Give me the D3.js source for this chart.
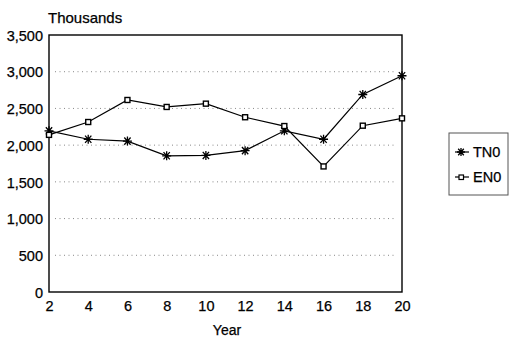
<!DOCTYPE html>
<html><head><meta charset="utf-8">
<script src="https://cdn.jsdelivr.net/npm/d3@7"></script>
<style>body{margin:0;background:#fff}svg{display:block}text{font-family:"Liberation Sans",Arial,sans-serif;fill:#000}</style>
</head><body><svg id="c" width="511" height="337"></svg>
<script>
const years = [2,4,6,8,10,12,14,16,18,20];
const tn0 = [2195,2080,2055,1855,1860,1925,2195,2080,2690,2945];
const en0 = [2140,2315,2615,2520,2565,2380,2260,1710,2265,2365];
const yTicks = [0,500,1000,1500,2000,2500,3000,3500];
const seriesNames = ["TN0","EN0"];

const svg = d3.select("#c");
const L=49,R=402,T=35,B=292;
const x = d3.scaleLinear().domain([2,20]).range([L,R]);
const y = d3.scaleLinear().domain([0,3500]).range([B,T]);
const FF = '"Liberation Sans",Arial,sans-serif';

// grid
svg.append("g").selectAll("line").data(yTicks.filter(d=>d>0&&d<3500)).join("line")
  .attr("x1",L+6).attr("x2",R-6).attr("y1",d=>y(d)).attr("y2",d=>y(d))
  .attr("stroke","#888").attr("stroke-width",1).attr("stroke-dasharray","1,3.5");

// frame
svg.append("rect").attr("x",L).attr("y",T).attr("width",R-L).attr("height",B-T)
  .attr("fill","none").attr("stroke","#000").attr("stroke-width",1.4);

// y axis
const ya = svg.append("g").attr("transform",`translate(${L},0)`)
  .call(d3.axisLeft(y).tickValues(yTicks).tickSize(0).tickPadding(6).tickFormat(d3.format(",")));
ya.select(".domain").remove();
ya.selectAll("text").attr("font-size",14.5).style("font-family",FF).attr("dy","0.36em")
  .attr("stroke","#000").attr("stroke-width",0.25);

// x axis
const xa = svg.append("g").attr("transform",`translate(0,${B})`)
  .call(d3.axisBottom(x).tickValues(years).tickSize(0).tickPadding(0));
xa.select(".domain").remove();
xa.selectAll("text").attr("font-size",14.5).style("font-family",FF).attr("dy",0).attr("y",19)
  .attr("stroke","#000").attr("stroke-width",0.25);

svg.append("text").attr("x",L-1).attr("y",23).attr("font-size",15).attr("stroke","#000").attr("stroke-width",0.25).text("Thousands");
svg.append("text").attr("x",227).attr("y",335).attr("text-anchor","middle").attr("font-size",14).attr("stroke","#000").attr("stroke-width",0.25).text("Year");

const line = d3.line().x((d,i)=>x(years[i])).y(d=>y(d));
svg.append("path").datum(tn0).attr("d",line).attr("fill","none").attr("stroke","#000").attr("stroke-width",1.2);
svg.append("path").datum(en0).attr("d",line).attr("fill","none").attr("stroke","#000").attr("stroke-width",1.2);

function star(g,cx,cy,r){
  const p = `M${cx-r},${cy}H${cx+r}M${cx-r*0.7},${cy-r*0.8}L${cx+r*0.7},${cy+r*0.8}M${cx-r*0.7},${cy+r*0.8}L${cx+r*0.7},${cy-r*0.8}M${cx},${cy-r}V${cy+r}`;
  g.append("path").attr("d",p).attr("stroke","#000").attr("stroke-width",1.3).attr("fill","none");
}
const sg = svg.append("g");
tn0.forEach((d,i)=>star(sg,x(years[i]),y(d),4.5));
svg.append("g").selectAll("rect").data(en0).join("rect")
  .attr("x",(d,i)=>x(years[i])-2.5).attr("y",d=>y(d)-2.5).attr("width",5).attr("height",5)
  .attr("fill","#fff").attr("stroke","#000").attr("stroke-width",1.4);

// legend
svg.append("rect").attr("x",449).attr("y",133).attr("width",59).attr("height",62)
  .attr("fill","none").attr("stroke","#555").attr("stroke-width",1);
const lg = svg.append("g");
lg.append("line").attr("x1",455).attr("x2",469).attr("y1",152).attr("y2",152).attr("stroke","#000").attr("stroke-width",1.2);
star(lg,461,152,4);
lg.append("line").attr("x1",455).attr("x2",469).attr("y1",177).attr("y2",177).attr("stroke","#000").attr("stroke-width",1.2);
lg.append("rect").attr("x",459).attr("y",175).attr("width",4.5).attr("height",4.5).attr("fill","#fff").attr("stroke","#000").attr("stroke-width",1.2);
lg.selectAll("text").data(seriesNames).join("text").attr("x",473).attr("y",(d,i)=>157+i*25)
  .attr("font-size",14.5).attr("stroke","#000").attr("stroke-width",0.25).text(d=>d);
</script></body></html>
